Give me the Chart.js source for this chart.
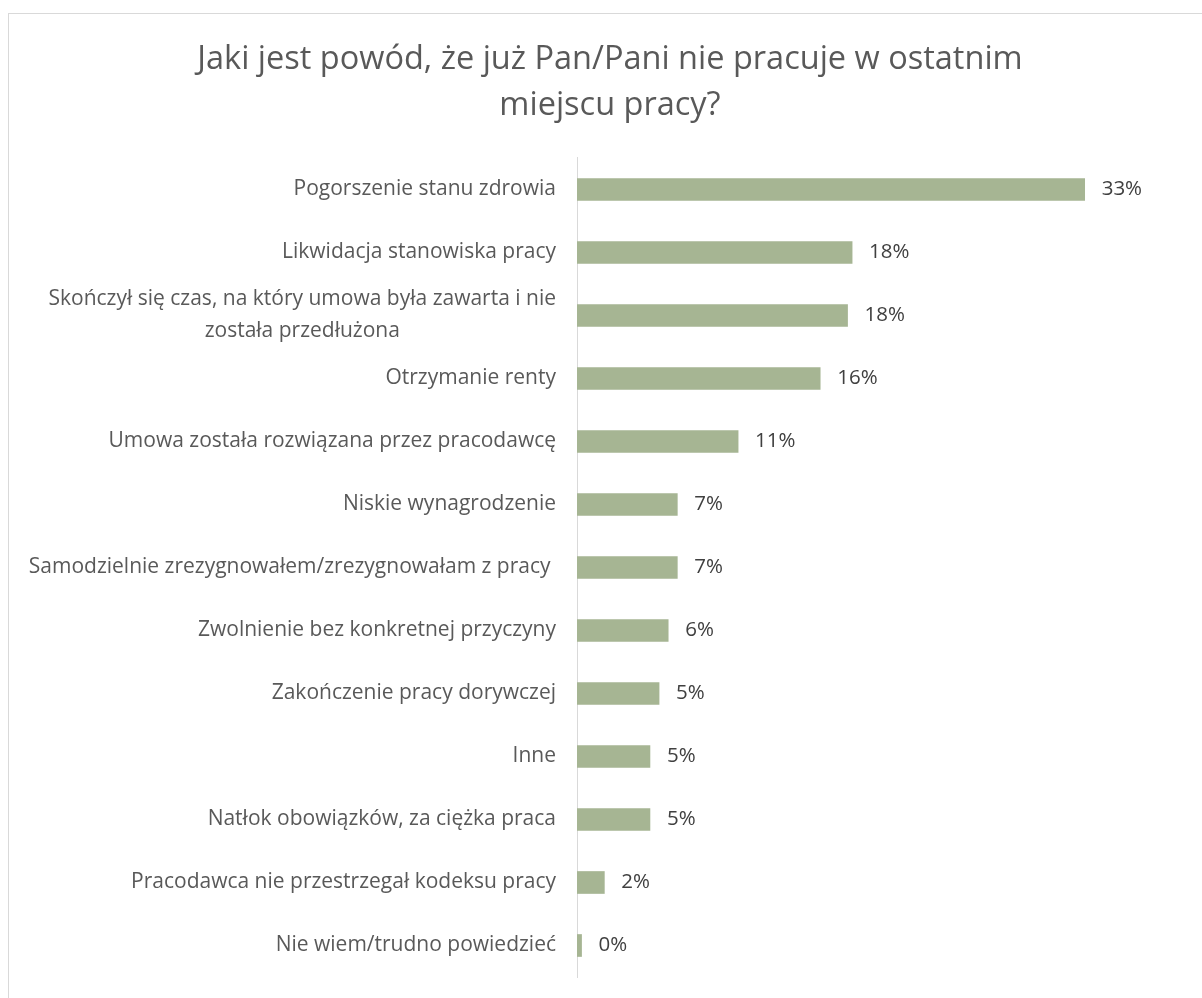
<!DOCTYPE html>
<html>
<head>
<meta charset="utf-8">
<script src="https://cdn.jsdelivr.net/npm/chart.js@4"></script>
<style>
  html, body { margin: 0; padding: 0; background: #fff; }
  #wrap { position: relative; width: 1202px; height: 998px; }
  #frame {
    position: absolute; left: 8px; top: 13px; width: 1200px; height: 1000px;
    border-left: 1px solid #d9d9d9; border-top: 1px solid #d9d9d9;
    pointer-events: none;
  }
</style>
</head>
<body>
<div id="wrap">
  <canvas id="reasonsChart" width="1202" height="998"></canvas>
  <div id="frame"></div>
</div>
<script>
// answers, top to bottom
const reasons = [
    "Pogorszenie stanu zdrowia",
    "Likwidacja stanowiska pracy",
    ["Skończył się czas, na który umowa była zawarta i nie", "została przedłużona"],
    "Otrzymanie renty",
    "Umowa została rozwiązana przez pracodawcę",
    "Niskie wynagrodzenie",
    "Samodzielnie zrezygnowałem/zrezygnowałam z pracy ",
    "Zwolnienie bez konkretnej przyczyny",
    "Zakończenie pracy dorywczej",
    "Inne",
    "Natłok obowiązków, za ciężka praca",
    "Pracodawca nie przestrzegał kodeksu pracy",
    "Nie wiem/trudno powiedzieć"
];

// share of answers in %
const shares = [33.4, 18.1, 17.8, 16.0, 10.6, 6.6, 6.6, 6.0, 5.4, 4.8, 4.8, 1.8, 0.3];

const titleLines = ["Jaki jest powód, że już Pan/Pani nie pracuje w ostatnim", "miejscu pracy?"];

const FONT = "'Open Sans', sans-serif";

// category names on the left, lines centred on each other like in Excel
const categoryLabels = {
    id: "categoryLabels",
    afterDraw(chart) {
        const ctx = chart.ctx;
        const y = chart.scales.y;
        ctx.save();
        ctx.font = "21px " + FONT;
        ctx.fillStyle = "#595959";
        ctx.textAlign = "center";
        ctx.textBaseline = "middle";
        const lineH = 32;
        reasons.forEach((lab, i) => {
            const lines = Array.isArray(lab) ? lab : [lab];
            const w = Math.max(...lines.map(l => ctx.measureText(l).width));
            const cx = y.right - 21 - w / 2;
            const cy = y.getPixelForValue(i);
            lines.forEach((l, k) => {
                ctx.fillText(l, cx, cy + (k - (lines.length - 1) / 2) * lineH);
            });
        });
        ctx.restore();
    }
};

// value labels right of the bars
const valueLabels = {
    id: "valueLabels",
    afterDatasetsDraw(chart) {
        const ctx = chart.ctx;
        const meta = chart.getDatasetMeta(0);
        ctx.save();
        ctx.font = "20.5px " + FONT;
        ctx.fillStyle = "#404040";
        ctx.textAlign = "left";
        ctx.textBaseline = "middle";
        meta.data.forEach((bar, i) => {
            ctx.fillText(Math.round(shares[i]) + "%", bar.x + 17, bar.y);
        });
        ctx.restore();
    }
};

new Chart(document.getElementById("reasonsChart"), {
    type: "bar",
    data: {
        labels: reasons,
        datasets: [{
            data: shares,
            backgroundColor: "#a6b593",
            barThickness: 22
        }]
    },
    options: {
        indexAxis: "y",
        responsive: false,
        animation: false,
        layout: { padding: { left: 35, right: 17, top: 0, bottom: 21 } },
        scales: {
            x: { display: false, min: 0, max: 40 },
            y: {
                ticks: { display: false },
                grid: { display: false },
                border: { display: true, color: "#d9d9d9", width: 1 },
                afterFit(scale) { scale.width = 542; }
            }
        },
        plugins: {
            legend: { display: false },
            tooltip: { enabled: false },
            title: {
                display: true,
                text: titleLines,
                color: "#595959",
                font: { family: FONT, size: 32.5, weight: "normal", lineHeight: 1.415 },
                padding: { top: 37, bottom: 29 }
            }
        }
    },
    plugins: [categoryLabels, valueLabels]
});
</script>
</body>
</html>
